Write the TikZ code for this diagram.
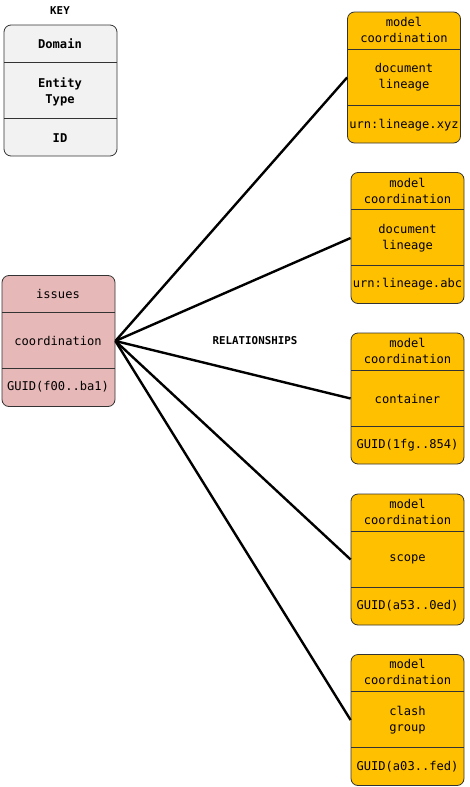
\documentclass[tikz,border=0pt]{standalone}
\usepackage{fontspec}
\setmonofont{DejaVu Sans Mono}
\usetikzlibrary{positioning}
\definecolor{keygray}{HTML}{F2F2F2}
\definecolor{issuepink}{HTML}{E6B8B7}
\definecolor{modelgold}{HTML}{FFC000}

\begin{document}
\begin{tikzpicture}[
    x=1pt, y=-1pt,
    entbox/.style={draw=black!80, line width=0.8pt, rounded corners=7pt, minimum width=113pt, minimum height=131pt, inner sep=0pt,
        path picture={
            \draw[black!80, line width=0.8pt] ([yshift=-37pt]path picture bounding box.north west) -- ([yshift=-37pt]path picture bounding box.north east);
            \draw[black!80, line width=0.8pt] ([yshift=-93pt]path picture bounding box.north west) -- ([yshift=-93pt]path picture bounding box.north east);
        }},
    txt/.style={font=\ttfamily\fontsize{12.1}{16}\selectfont, align=center, inner sep=0pt},
    keytxt/.style={txt, font=\ttfamily\bfseries\fontsize{12.1}{16}\selectfont},
    headtxt/.style={txt, font=\ttfamily\bfseries\fontsize{10.8}{14}\selectfont},
    link/.style={line width=2.4pt}
]
\useasboundingbox (0,0) rectangle (470,787);

% Key
\node[headtxt] (keyhead) at (60,11) {KEY};
\node[entbox, fill=keygray] (key) at (60.5,90.5) {};
\node[keytxt] (keydom) at (60,44) {Domain};
\node[keytxt] (keytype) at (60,92) {Entity\\Type};
\node[keytxt] (keyid) at (60,138) {ID};

% Source entity
\node[entbox, fill=issuepink] (issues) at (58.5,341) {};
\node[txt] (issuesdom) at (58,294) {issues};
\node[txt] (issuestype) at (58,341) {coordination};
\node[txt] (issuesid) at (58,387) {GUID(f00..ba1)};

\node[headtxt] (rel) at (255,341) {RELATIONSHIPS};

% Target entities
\node[entbox, fill=modelgold] (m1) at (404,77.5) {};
\node[txt] (m1dom) at (404,30) {model\\coordination};
\node[txt] (m1type) at (404,77) {document\\lineage};
\node[txt] (m1id) at (404,125) {urn:lineage.xyz};

\node[entbox, fill=modelgold] (m2) at (407.5,238) {};
\node[txt] (m2dom) at (407.5,191) {model\\coordination};
\node[txt] (m2type) at (407.5,238) {document\\lineage};
\node[txt] (m2id) at (407.5,284) {urn:lineage.abc};

\node[entbox, fill=modelgold] (m3) at (407.5,398.5) {};
\node[txt] (m3dom) at (407.5,351) {model\\coordination};
\node[txt] (m3type) at (407.5,399) {container};
\node[txt] (m3id) at (407.5,445) {GUID(1fg..854)};

\node[entbox, fill=modelgold] (m4) at (407.5,559.5) {};
\node[txt] (m4dom) at (407.5,512) {model\\coordination};
\node[txt] (m4type) at (407.5,559) {scope};
\node[txt] (m4id) at (407.5,606) {GUID(a53..0ed)};

\node[entbox, fill=modelgold] (m5) at (407.5,720) {};
\node[txt] (m5dom) at (407.5,672) {model\\coordination};
\node[txt] (m5type) at (407.5,720) {clash\\group};
\node[txt] (m5id) at (407.5,767) {GUID(a03..fed)};

% Relationships
\foreach \i in {1,...,5}
    \draw[link] (issues.east) -- (m\i.west);

\end{tikzpicture}
\end{document}
